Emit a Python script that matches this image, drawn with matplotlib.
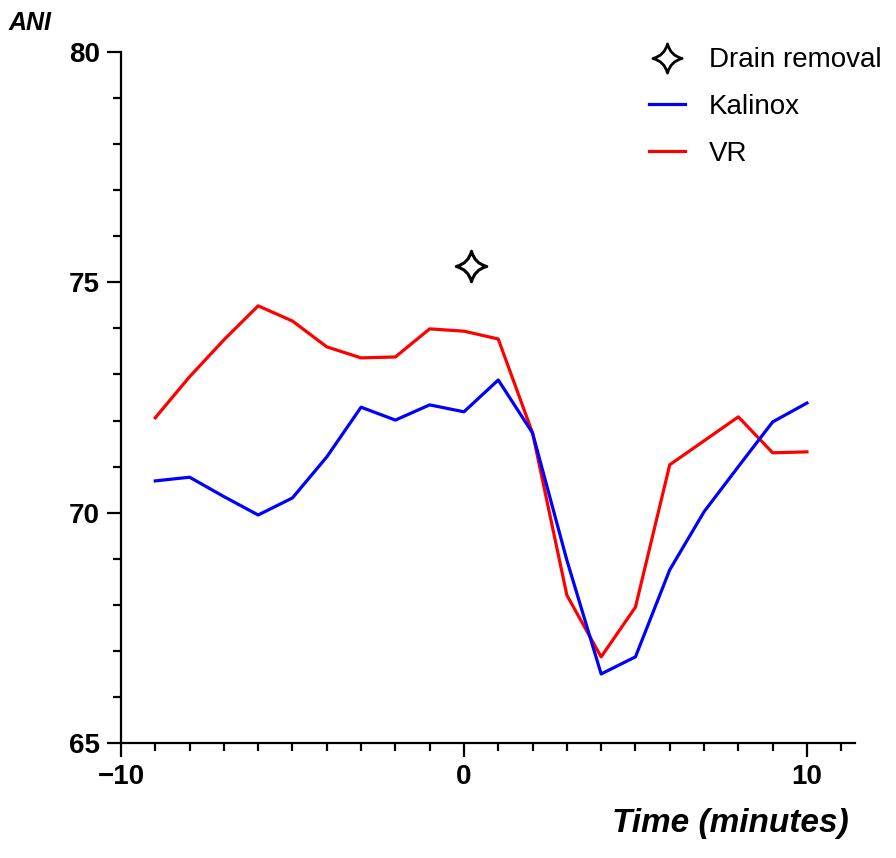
import matplotlib
matplotlib.use("Agg")
import matplotlib.pyplot as plt
from matplotlib.ticker import MultipleLocator
from matplotlib.lines import Line2D
from matplotlib.path import Path

# --- data ---
time = [-9, -8, -7, -6, -5, -4, -3, -2, -1, 0, 1, 2, 3, 4, 5, 6, 7, 8, 9, 10]
kalinox = [70.69, 70.77, 70.35, 69.95, 70.32, 71.21, 72.29, 72.01, 72.34, 72.19,
           72.88, 71.73, 68.97, 66.50, 66.87, 68.76, 70.02, 71.00, 71.97, 72.38]
vr = [72.06, 72.95, 73.75, 74.49, 74.16, 73.60, 73.36, 73.38, 73.99, 73.94,
      73.77, 71.73, 68.21, 66.87, 67.95, 71.04, 71.56, 72.08, 71.30, 71.32]
drain_x = [0.2]
drain_y = [75.35]

plt.rcParams['font.family'] = ['Liberation Sans', 'DejaVu Sans']

# 4-point star with concave sides
c = 0.2
star = Path([(0, 1), (c, c), (1, 0), (c, -c), (0, -1), (-c, -c), (-1, 0), (-c, c), (0, 1), (0, 1)],
            [Path.MOVETO, Path.CURVE3, Path.CURVE3, Path.CURVE3, Path.CURVE3,
             Path.CURVE3, Path.CURVE3, Path.CURVE3, Path.CURVE3, Path.CLOSEPOLY])

fig = plt.figure(figsize=(8.96, 8.58), dpi=100)
ax = fig.add_axes([0.1350, 0.1340, 0.8192, 0.8054])

ax.plot(time, vr, color='#ff0000', lw=2.3, zorder=3)
ax.plot(time, kalinox, color='#0000ff', lw=2.3, zorder=4)
ax.plot(drain_x, drain_y, linestyle='none', marker=star, markersize=22,
        markerfacecolor='white', markeredgecolor='black', markeredgewidth=2.2)

ax.set_xlim(-10, 11.4)
ax.set_ylim(65, 80)
ax.spines['top'].set_visible(False)
ax.spines['right'].set_visible(False)
for s in ['left', 'bottom']:
    ax.spines[s].set_linewidth(1.6)

ax.xaxis.set_major_locator(MultipleLocator(10))
ax.xaxis.set_minor_locator(MultipleLocator(1))
ax.yaxis.set_major_locator(MultipleLocator(5))
ax.yaxis.set_minor_locator(MultipleLocator(1))
ax.tick_params(which='major', length=10, width=1.6, pad=5, labelsize=20)
ax.tick_params(which='minor', length=6, width=1.6)
ax.set_xticks([-10, 0, 10])
ax.set_xticklabels(['\u221210', '0', '10'])
for lab in ax.get_xticklabels() + ax.get_yticklabels():
    lab.set_fontweight('bold')

fig.text(0.010, 0.973, 'ANI', fontsize=18, fontweight='bold', style='italic',
         ha='left', va='center')
fig.text(0.947, 0.040, 'Time (minutes)', fontsize=24, fontweight='bold',
         style='italic', ha='right', va='center')

handles = [
    Line2D([], [], linestyle='none', marker=star, markersize=21,
           markerfacecolor='white', markeredgecolor='black', markeredgewidth=2),
    Line2D([], [], color='#0000ff', lw=2.3),
    Line2D([], [], color='#ff0000', lw=2.3),
]
ax.legend(handles, ['Drain removal', 'Kalinox', 'VR'], loc='upper left',
          bbox_to_anchor=(0.696, 0.974), bbox_transform=fig.transFigure,
          frameon=False, fontsize=20, handlelength=1.3, handletextpad=0.86,
          labelspacing=0.75, borderpad=0.4)

fig.savefig('out.png', dpi=100)
